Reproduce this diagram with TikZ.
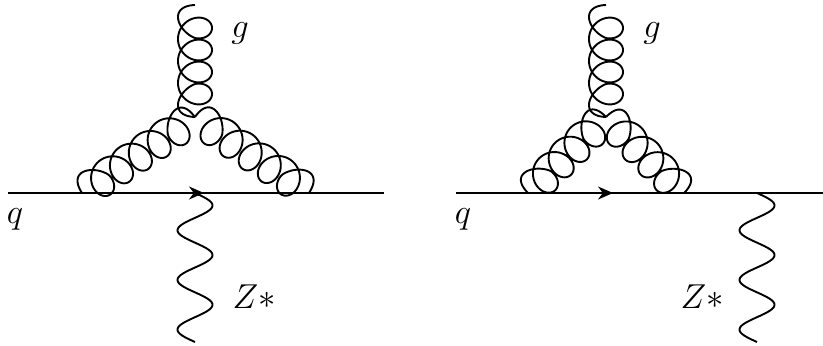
\documentclass[tikz,border=0pt]{standalone}
\usepackage{tikz}
\usetikzlibrary{arrows.meta}

% start, angle, length, turns, end bulge
\newcommand{\gluonline}[5]{
  \draw[gluon, shift={(#1)}, rotate=#2] plot[domain=-90:{360*#4-90}, samples=500]
    ({(#3-2*#5)/#4*((\x+90)/360) + #5*(sin(\x)+1)
      + (15.5-#5)*sin(\x)*min(1,(\x+90)/180,(360*#4-90-\x)/180)}, {17*cos(\x)});
}
% start, length
\newcommand{\bosonline}[2]{
  \draw[boson, shift={(#1)}] plot[domain=0:#2, samples=150]
    ({17.5*sin(\x/#2*1080)}, {-\x});
}

\begin{document}
\begin{tikzpicture}[x=0.5pt,y=0.5pt,
  quark/.style={line width=1pt},
  qarrow/.style={-{Stealth[length=7.5pt,width=6.5pt]}, line width=1pt},
  gluon/.style={line width=0.95pt, line join=round},
  boson/.style={line width=0.95pt, line join=round},
  lbl/.style={font=\fontsize{17}{20}\selectfont, inner sep=0pt},
]
\useasboundingbox (0,0) rectangle (823,345);
% left graph
\coordinate (qa) at (8,152);
\coordinate (qb) at (384,152);
\coordinate (qm) at (204,152);
\coordinate (ga) at (82,152);
\coordinate (gb) at (310,152);
\coordinate (gv) at (195,228);
\coordinate (za) at (195,152);
\draw[quark] (qa) -- (qb);
\draw[qarrow] (qa) -- (qm);
\gluonline{ga}{33.9}{136}{5.5}{5.5}
\gluonline{gv}{-33.5}{137}{5.5}{5.5}
\gluonline{gv}{90}{112}{4.5}{6.5}
\bosonline{za}{149}
\node[lbl] (g1) at (240,312) {$g$};
\node[lbl] (q1) at (15,126) {$q$};
\node[lbl] (z1) at (254,48) {$Z*$};
% right graph
\coordinate (qc) at (456,152);
\coordinate (qd) at (823,152);
\coordinate (qn) at (613,152);
\coordinate (gc) at (528,152);
\coordinate (gd) at (683,152);
\coordinate (gw) at (606,228);
\coordinate (zc) at (757,152);
\draw[quark] (qc) -- (qd);
\draw[qarrow] (qc) -- (qn);
\gluonline{gc}{44.3}{109}{4.5}{5}
\gluonline{gw}{-44.3}{109}{4.5}{5}
\gluonline{gw}{90}{112}{4.5}{6.5}
\bosonline{zc}{149}
\node[lbl] (g2) at (652,312) {$g$};
\node[lbl] (q2) at (463,126) {$q$};
\node[lbl] (z2) at (702,48) {$Z*$};
\end{tikzpicture}
\end{document}
